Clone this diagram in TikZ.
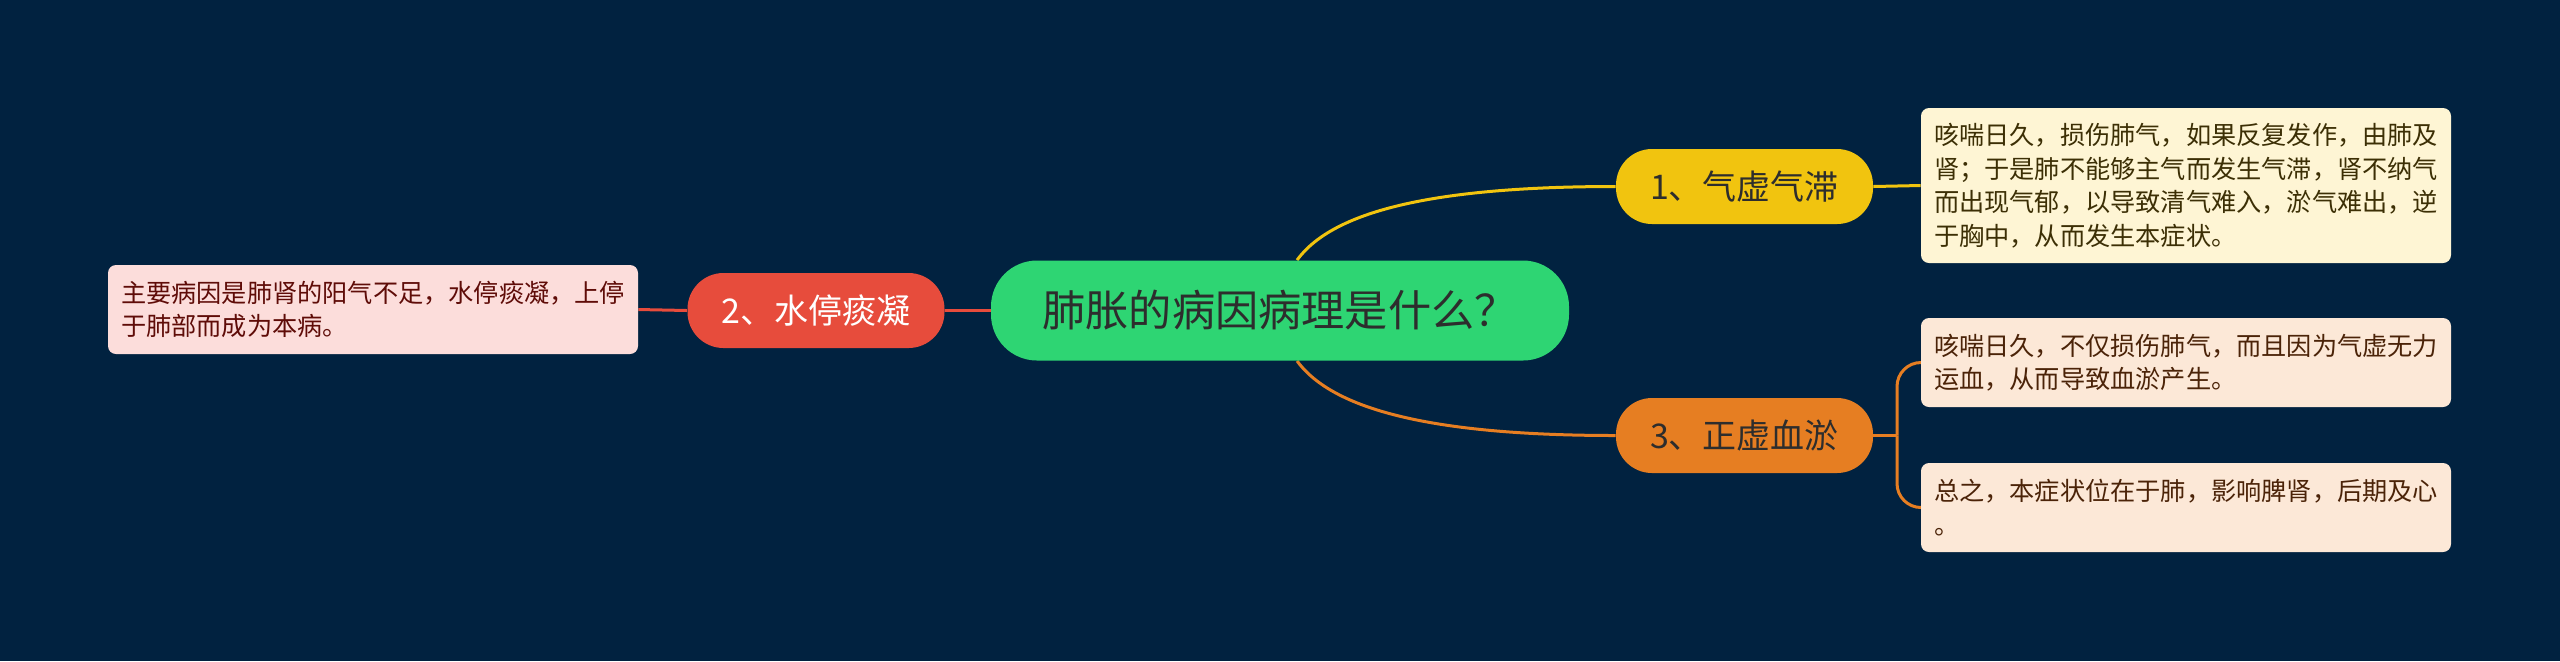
\documentclass[tikz,border=0pt]{standalone}
\usepackage{fontspec}
\setmainfont{Noto Sans CJK SC}
\usetikzlibrary{backgrounds}
\definecolor{bgc}{RGB}{1,34,64}
\definecolor{cgreen}{RGB}{46,213,115}
\definecolor{cyellow}{RGB}{241,196,15}
\definecolor{corange}{RGB}{230,126,34}
\definecolor{cred}{RGB}{231,76,60}
\definecolor{leafY}{RGB}{254,245,212}
\definecolor{leafO}{RGB}{252,232,215}
\definecolor{leafR}{RGB}{252,221,219}
\definecolor{txtY}{RGB}{60,47,5}
\definecolor{txtO}{RGB}{75,35,8}
\definecolor{txtR}{RGB}{95,12,8}
\definecolor{txtD}{RGB}{45,45,45}
\tikzset{
  rootbox/.style={fill=cgreen, rounded corners=23pt, minimum width=289pt, minimum height=50pt, inner sep=0pt,
     text=txtD, font=\fontsize{21.6pt}{26pt}\selectfont},
  topicbox/.style={rounded corners=18pt, minimum width=128.5pt, minimum height=37.5pt, inner sep=0pt,
     font=\fontsize{17pt}{20pt}\selectfont},
  leafbox/.style={rounded corners=4pt, minimum width=265pt, inner sep=0pt, align=left,
     font=\fontsize{12.6pt}{16.75pt}\selectfont},
  link/.style={line width=1.5pt}
}
\begin{document}
\begin{tikzpicture}[x=0.5pt,y=-0.5pt]
\useasboundingbox (0,0) rectangle (2560,661);
\node[rootbox] (root) at (1280,310.5) {肺胀的病因病理是什么？};
\node[topicbox, fill=cyellow, text=txtD] (t1) at (1744.5,186.5) {1、气虚气滞};
\node[topicbox, fill=cred, text=white] (t2) at (816,310.5) {2、水停痰凝};
\node[topicbox, fill=corange, text=txtD] (t3) at (1744.5,435.5) {3、正虚血淤};
\node[leafbox, fill=leafY, text=txtY, minimum height=77.5pt] (l1) at (2186,185.5)
  {咳喘日久，损伤肺气，如果反复发作，由肺及\\肾；于是肺不能够主气而发生气滞，肾不纳气\\而出现气郁，以导致清气难入，淤气难出，逆\\于胸中，从而发生本症状。};
\node[leafbox, fill=leafR, text=txtR, minimum height=44.5pt] (l2) at (373,309.5)
  {主要病因是肺肾的阳气不足，水停痰凝，上停\\于肺部而成为本病。};
\node[leafbox, fill=leafO, text=txtO, minimum height=44.5pt] (l3a) at (2186,362.5)
  {咳喘日久，不仅损伤肺气，而且因为气虚无力\\运血，从而导致血淤产生。};
\node[leafbox, fill=leafO, text=txtO, minimum height=44.5pt] (l3b) at (2186,507.5)
  {总之，本症状位在于肺，影响脾肾，后期及心\\。};
\coordinate (fork) at (1897,435.5);
\begin{pgfonlayer}{background}
\fill[bgc] (0,0) rectangle (2560,661);
\draw[link, cyellow] ([xshift=8.5pt]root.north) .. controls (1330,215) and (1420,186.5) .. (t1.west);
\draw[link, corange] ([xshift=8.5pt]root.south) .. controls (1330,406) and (1420,435.5) .. (t3.west);
\draw[link, cred] (root.west) -- (t2.east);
\draw[link, cred] (t2.west) -- (l2.east);
\draw[link, cyellow] (t1.east) -- (l1.west);
\draw[link, corange] (t3.east) -- (fork);
\draw[link, corange, rounded corners=12pt] (fork) |- (l3a.west);
\draw[link, corange, rounded corners=12pt] (fork) |- (l3b.west);
\end{pgfonlayer}
\end{tikzpicture}
\end{document}
